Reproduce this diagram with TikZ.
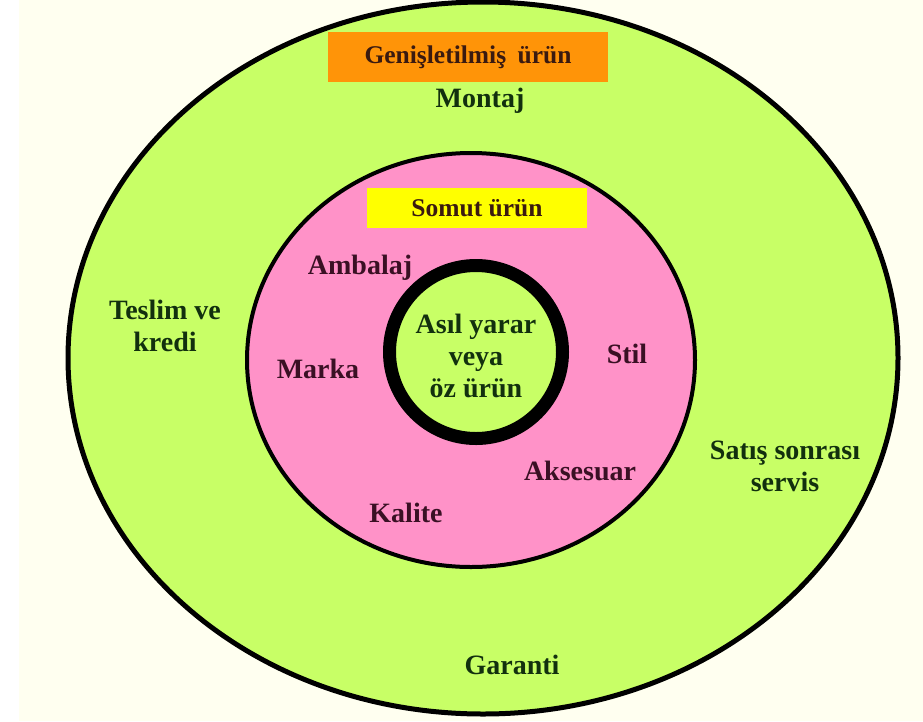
\documentclass[tikz,border=0pt]{standalone}
\usepackage{fontspec}
\setmainfont{Liberation Serif}
\definecolor{cream}{HTML}{FFFFF0}
\definecolor{lime}{HTML}{C8FF66}
\definecolor{rose}{HTML}{FF92C8}
\definecolor{orng}{HTML}{FF9408}
\definecolor{yelw}{HTML}{FFFF00}
\definecolor{grtext}{HTML}{12300E}
\definecolor{pktext}{HTML}{3A1024}
\definecolor{bxtext}{HTML}{3A1A10}
\begin{document}
\begin{tikzpicture}[x=1pt,y=-1pt,
    every node/.style={inner sep=0pt,align=center,font=\fontsize{28}{32}\selectfont\bfseries},
    title/.style={minimum height=#1,font=\fontsize{25.5}{30}\selectfont\bfseries,text=bxtext},
    outer/.style={text=grtext},
    inner/.style={text=pktext}]
  \fill[white] (0,0) rectangle (923,721);
  \fill[cream] (19,0) rectangle (923,721);
  \useasboundingbox (0,0) rectangle (923,721);

  % rings
  \draw[line width=5pt,fill=lime] (483,358) ellipse [x radius=415,y radius=356];
  \draw[line width=4pt,fill=rose] (471,360) ellipse [x radius=224,y radius=207];
  \draw[line width=13pt,fill=lime] (476,352) circle [radius=86.5];

  % titles
  \node[title=50pt,fill=orng,minimum width=280pt] (gen) at (468,57) {Genişletilmiş\hspace{0.45em}ürün};
  \node[title=40pt,fill=yelw,minimum width=220pt] (som) at (477,208) {Somut ürün};

  % outer ring
  \node[outer] (mon) at (480,101) {Montaj};
  \node[outer] (tes) at (165,326) {Teslim ve\\kredi};
  \node[outer] (sat) at (785,466) {Satış sonrası\\servis};
  \node[outer] (gar) at (512,665) {Garanti};

  % middle ring
  \node[inner] (amb) at (360,268) {Ambalaj};
  \node[inner] (mar) at (318,369) {Marka};
  \node[inner] (sti) at (627,354) {Stil};
  \node[inner] (aks) at (580,471) {Aksesuar};
  \node[inner] (kal) at (406,513) {Kalite};

  % core
  \node[outer] (asl) at (476,356) {Asıl yarar\\veya\\öz ürün};
\end{tikzpicture}
\end{document}
